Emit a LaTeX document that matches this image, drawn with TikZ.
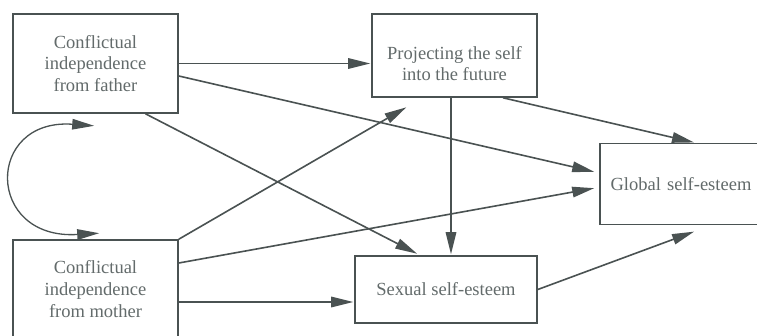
\documentclass[tikz,border=0pt]{standalone}
\usepackage{fontspec}
\setmainfont{Liberation Serif}
\usetikzlibrary{arrows.meta,calc}
\definecolor{linec}{HTML}{4A5252}
\definecolor{textc}{HTML}{636B6B}
\begin{document}
\begin{tikzpicture}[x=1pt,y=-1pt,
  txt/.style={text=textc, align=center, font=\fontsize{18.5}{21.7}\selectfont},
  box/.style={draw=linec, line width=1.6pt, fill=white, txt, inner sep=0pt},
  tip/.tip={Triangle[length=22pt,width=10.5pt]},
  conn/.style={draw=linec, line width=1.6pt, -tip, shorten >=1pt},
]
\useasboundingbox (0,0) rectangle (757,336);
\clip (0,0) rectangle (757,336);
\fill[white] (0,0) rectangle (757,336);

\node[box, minimum width=165pt, minimum height=99pt] (father) at (95.5,63.5)
  {Conflictual\\independence\\from father};
\node[box, minimum width=165pt, minimum height=98pt] (mother) at (95.5,289)
  {Conflictual\\independence\\from mother};
\node[box, minimum width=165pt, minimum height=83pt,
  label={[txt, yshift=-8pt]center:Projecting the self\\into the future}] (proj) at (454.5,55.5) {};
\node[box, minimum width=182pt, minimum height=67pt] (sexual) at (446,289.5)
  {Sexual self-esteem};
\node[box, minimum width=162pt, minimum height=81pt, text width=150pt] (glob) at (681,184)
  {Global self-esteem};

% father arrows
\draw[conn] (father.east) -- (father.east -| proj.west);
\draw[conn] ($(father.east)+(0,12.5)$) -- ($(glob.west)+(-4,-12)$);
\draw[conn] ($(father.south)+(50,0)$) -- ($(sexual.north)+(-28,-1)$);

% projecting arrows
\coordinate (p4) at ($(proj.south)+(-3.5,0)$);
\draw[conn] (p4) -- (p4 |- sexual.north);
\draw[conn] ($(proj.south)+(48.5,0)$) -- ($(glob.north)+(14,0)$);

% mother arrows
\draw[conn] (mother.north east) -- ($(proj.south west)+(36,9)$);
\draw[conn] ($(mother.east)+(0,-26)$) -- ($(glob.west)+(-4,4)$);
\coordinate (m8) at ($(mother.east)+(0,13)$);
\draw[conn] (m8) -- (m8 -| sexual.west);

% sexual to global
\draw[conn] (sexual.east) -- ($(glob.south)+(14,6)$);

% correlation curve
\coordinate (cf) at ($(father.south west)+(82,12)$);
\coordinate (cm) at ($(mother.north west)+(87,-6)$);
\draw[draw=linec, line width=1.3pt, tip-tip] (cf) .. controls (-15,118) and (-15,240) .. (cm);
\end{tikzpicture}
\end{document}
